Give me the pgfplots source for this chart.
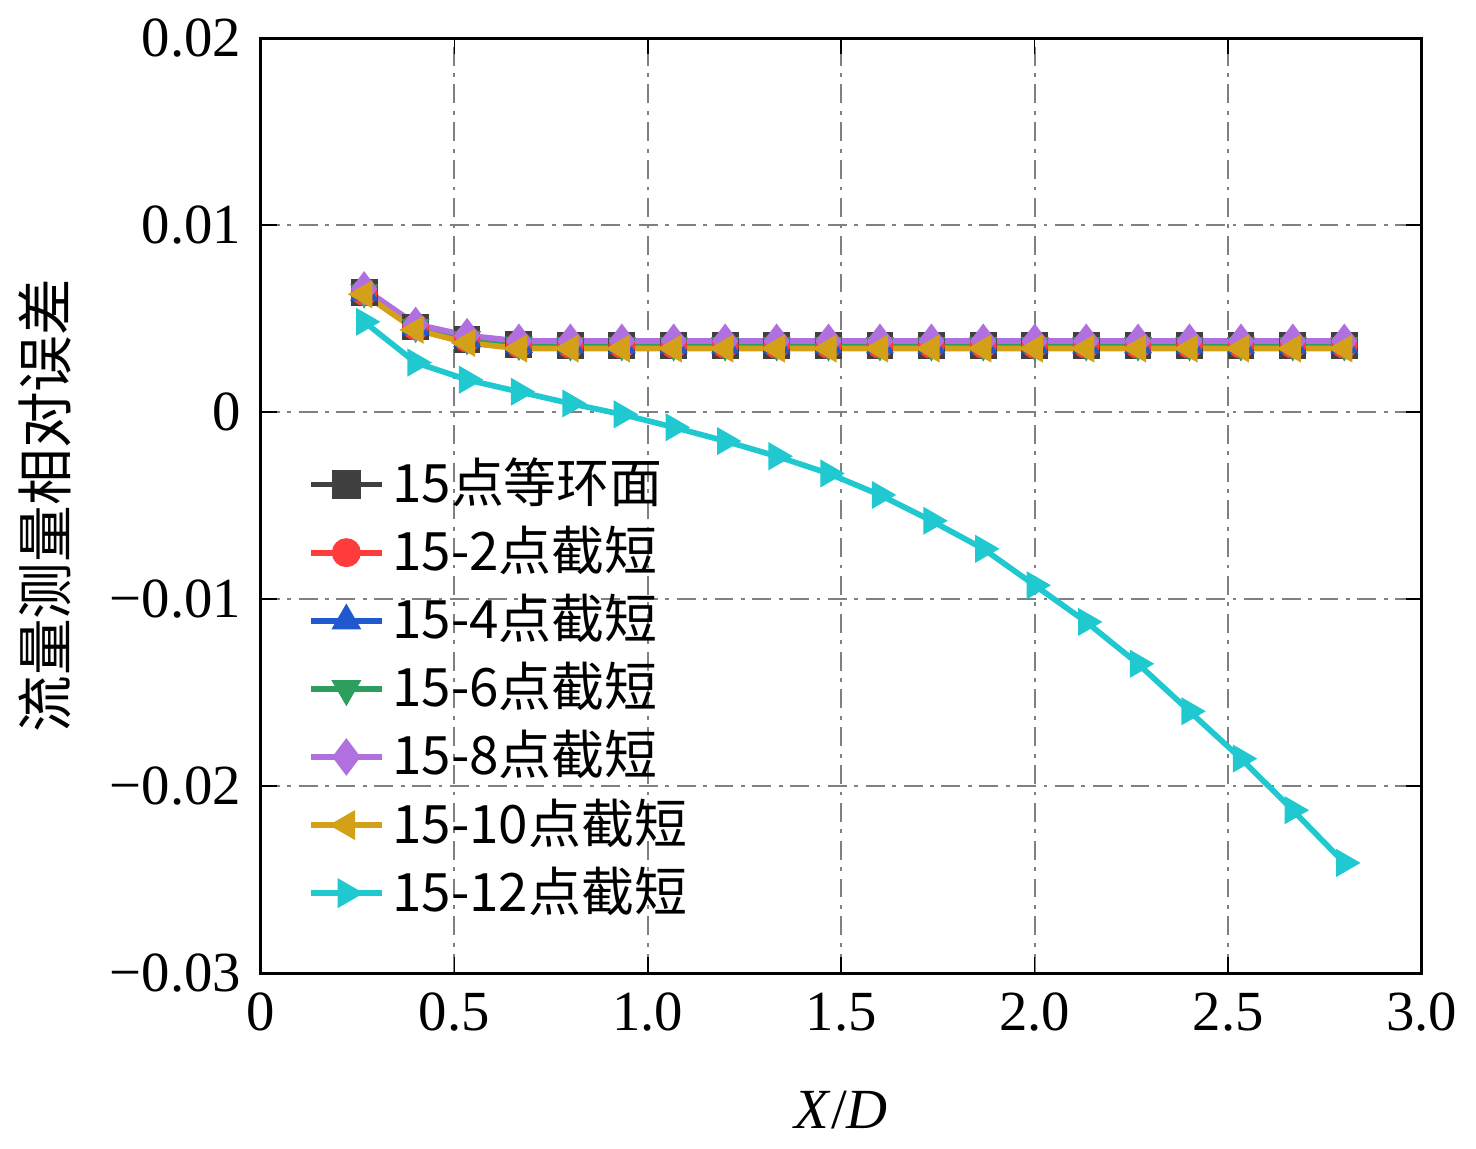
\documentclass[border=0pt]{standalone}
\usepackage{pgfplots}
\pgfplotsset{compat=1.18}
\usepackage{fontspec}
\setmainfont{Liberation Serif}
\newfontfamily\cjk{Noto Sans CJK SC}
\definecolor{cA}{HTML}{404040}
\definecolor{cB}{HTML}{FF3B3B}
\definecolor{cC}{HTML}{2058D0}
\definecolor{cD}{HTML}{2E9E5E}
\definecolor{cE}{HTML}{B070E0}
\definecolor{cF}{HTML}{D4A017}
\definecolor{cG}{HTML}{20C8D0}
\pgfplotstableread{
x a e f g
0.267 0.0064 0.0066 0.0063 0.00483
0.400 0.00455 0.0047 0.0044 0.00265
0.533 0.0039 0.0041 0.0037 0.00173
0.667 0.0036 0.0038 0.0034 0.00109
0.800 0.00357 0.0038 0.0034 0.00046
0.933 0.00357 0.0038 0.0034 -0.00012
1.067 0.00357 0.0038 0.0034 -0.00081
1.200 0.00357 0.0038 0.0034 -0.00155
1.333 0.00357 0.0038 0.0034 -0.00236
1.467 0.00357 0.0038 0.0034 -0.00328
1.600 0.00357 0.0038 0.0034 -0.00443
1.733 0.00357 0.0038 0.0034 -0.00581
1.867 0.00357 0.0038 0.0034 -0.00731
2.000 0.00357 0.0038 0.0034 -0.00926
2.133 0.00357 0.0038 0.0034 -0.01122
2.267 0.00357 0.0038 0.0034 -0.01346
2.400 0.00357 0.0038 0.0034 -0.01600
2.533 0.00357 0.0038 0.0034 -0.01853
2.667 0.00357 0.0038 0.0034 -0.02129
2.800 0.00357 0.0038 0.0034 -0.02411
}\data
\begin{document}
\fontsize{15}{17}\selectfont
\begin{tikzpicture}
\begin{axis}[
  scale only axis, width=107.9mm, height=86.9mm,
  xmin=0, xmax=3, ymin=-0.03, ymax=0.02,
  xtick={0,0.5,1,1.5,2,2.5,3}, xticklabels={0,0.5,1.0,1.5,2.0,2.5,3.0},
  ytick={-0.03,-0.02,-0.01,0,0.01,0.02},
  yticklabels={−0.03,−0.02,−0.01,0,0.01,0.02},
  scaled y ticks=false,
  tick label style={font=\fontsize{15}{17}\selectfont},
  xlabel style={yshift=-2mm},
  tick align=inside, tick style={black, thin},
  grid=major, major grid style={gray, dash pattern=on 5pt off 2pt on 1pt off 2pt, line width=0.6pt},
  axis line style={line width=0.8pt},
  xlabel={\textit{X}/\textit{D}}, ylabel={\cjk 流量测量相对误差},
  every axis plot/.append style={line width=1.5pt, mark size=2.8pt},
  legend style={draw=none, fill=none, at={(0.04,0.56)}, anchor=north west,
    font=\fontsize{14}{15}\selectfont\cjk, row sep=0pt, inner sep=0pt},
  legend image post style={scale=1.1},
  legend cell align=left,
]
\addplot[cA, mark=square*] table[x=x,y=a]{\data};
\addlegendentry{15点等环面}
\addplot[cB, mark=*] table[x=x,y=a]{\data};
\addlegendentry{15-2点截短}
\addplot[cC, mark=triangle*] table[x=x,y=a]{\data};
\addlegendentry{15-4点截短}
\addplot[cD, mark=triangle*, mark options={rotate=180}] table[x=x,y=a]{\data};
\addlegendentry{15-6点截短}
\addplot[cE, mark=diamond*, mark size=3.4pt] table[x=x,y=e]{\data};
\addlegendentry{15-8点截短}
\addplot[cF, mark=triangle*, mark options={rotate=90}] table[x=x,y=f]{\data};
\addlegendentry{15-10点截短}
\addplot[cG, mark=triangle*, mark options={rotate=-90}] table[x=x,y=g]{\data};
\addlegendentry{15-12点截短}
\end{axis}
\end{tikzpicture}
\end{document}
